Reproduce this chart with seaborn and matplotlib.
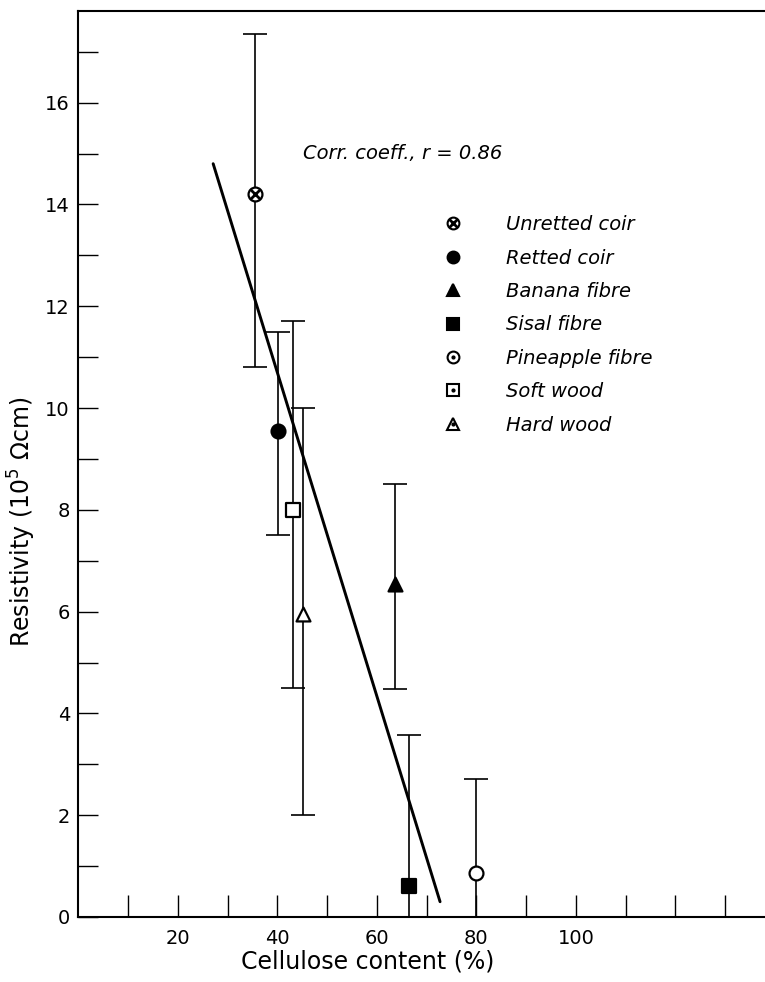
import matplotlib
matplotlib.use("Agg")
import matplotlib.pyplot as plt
from matplotlib.lines import Line2D
import seaborn as sns
import pandas as pd

# values
fibres = ["Unretted coir", "Retted coir", "Banana fibre", "Sisal fibre",
          "Pineapple fibre", "Soft wood", "Hard wood"]
cellulose = [35.5, 40.2, 63.6, 66.4, 80.0, 43.2, 45.2]
resistivity = [14.2, 9.55, 6.55, 0.6, 0.86, 8.0, 5.95]
err_top = [17.35, 11.5, 8.5, 3.58, 2.71, 11.7, 10.0]
err_bottom = [10.8, 7.5, 4.48, -2.4, -1.0, 4.5, 2.0]
marker_shape = ["o", "o", "^", "s", "o", "s", "^"]
marker_filled = [False, True, True, True, False, False, False]

# regression line end points
fit_x = [27.1, 72.7]
fit_y = [14.8, 0.3]

x_ticks = list(range(10, 140, 10))
x_ticklabels = ["", "20", "", "40", "", "60", "", "80", "", "100", "", "", ""]
y_ticks = list(range(0, 18))
y_ticklabels = [str(v) if v % 2 == 0 else "" for v in y_ticks]

corr_text = "Corr. coeff., r = 0.86"

sns.set_theme(style="ticks")
plt.rcParams["font.family"] = ["DejaVu Sans"]
plt.rcParams["text.color"] = "black"
plt.rcParams["axes.labelcolor"] = "black"

df = pd.DataFrame({
    "fibre": fibres,
    "cellulose": cellulose,
    "resistivity": resistivity,
    "err_top": err_top,
    "err_bottom": err_bottom,
    "marker": marker_shape,
    "filled": marker_filled,
})

fig = plt.figure(figsize=(7.65, 9.82), dpi=100)
ax = fig.add_axes([78.3 / 765, 65 / 982, (765 - 78.3) / 765, 906 / 982])

# error bars
ax.errorbar(df["cellulose"], df["resistivity"],
            yerr=[df["resistivity"] - df["err_bottom"], df["err_top"] - df["resistivity"]],
            fmt="none", ecolor="black", elinewidth=1.2, capsize=8.5, capthick=1.2, zorder=2)

# fitted line
sns.lineplot(x=fit_x, y=fit_y, color="black", linewidth=2.1, ax=ax, zorder=3, legend=False)

# markers
for _, row in df.iterrows():
    face = "black" if row["filled"] else "white"
    sns.scatterplot(x=[row["cellulose"]], y=[row["resistivity"]], marker=row["marker"],
                    s=100, color=face, edgecolor="black", linewidth=1.6, ax=ax, zorder=4,
                    legend=False)
    if row["fibre"] == "Unretted coir":
        sns.scatterplot(x=[row["cellulose"]], y=[row["resistivity"]], marker="x",
                        s=40, color="black", linewidth=2.0, ax=ax, zorder=5, legend=False)

ax.text(45.2, 15.0, corr_text, style="italic", fontsize=14, va="center", ha="left",
        color="black")


# legend
def make_handle(marker, filled, extra=None):
    base = Line2D([], [], linestyle="none", marker=marker, markersize=8.5,
                  markerfacecolor="black" if filled else "white",
                  markeredgecolor="black", markeredgewidth=1.5)
    if extra == "cross":
        return (base, Line2D([], [], linestyle="none", marker="x", markersize=5.5,
                             color="black", markeredgewidth=2.0))
    if extra == "dot":
        return (base, Line2D([], [], linestyle="none", marker="o", markersize=2,
                             color="black"))
    return base


legend_extra = ["cross", None, None, None, "dot", "dot", "dot"]
handles = [make_handle(m, f, e) for m, f, e in zip(marker_shape, marker_filled, legend_extra)]
leg = ax.legend(handles, fibres, loc="upper left", bbox_to_anchor=(0.532, 0.7745),
                frameon=False, handlelength=1.0, handletextpad=2.2, labelspacing=0.74,
                borderpad=0, borderaxespad=0, prop={"style": "italic", "size": 14})
for t in leg.get_texts():
    t.set_color("black")

ax.set_xlim(0, 138.0)
ax.set_ylim(0, 17.8)
ax.set_xticks(x_ticks)
ax.set_xticklabels(x_ticklabels)
ax.set_yticks(y_ticks)
ax.set_yticklabels(y_ticklabels)
ax.tick_params(axis="x", direction="in", length=15.8, width=1.0, labelsize=14, pad=9, colors="black")
ax.tick_params(axis="y", direction="in", length=14.4, width=1.0, labelsize=14, pad=6, colors="black")

for side in ["left", "bottom", "top"]:
    ax.spines[side].set_linewidth(1.5)
    ax.spines[side].set_color("black")
ax.spines["right"].set_visible(False)

ax.set_xlabel("Cellulose content (%)", fontsize=17)
ax.set_ylabel(r"Resistivity (10$^5$ Ωcm)", fontsize=17)
ax.xaxis.set_label_coords(0.4207, -0.0364)
ax.yaxis.set_label_coords(-0.058, 0.436)

plt.savefig("out.png", dpi=100)
plt.close()
